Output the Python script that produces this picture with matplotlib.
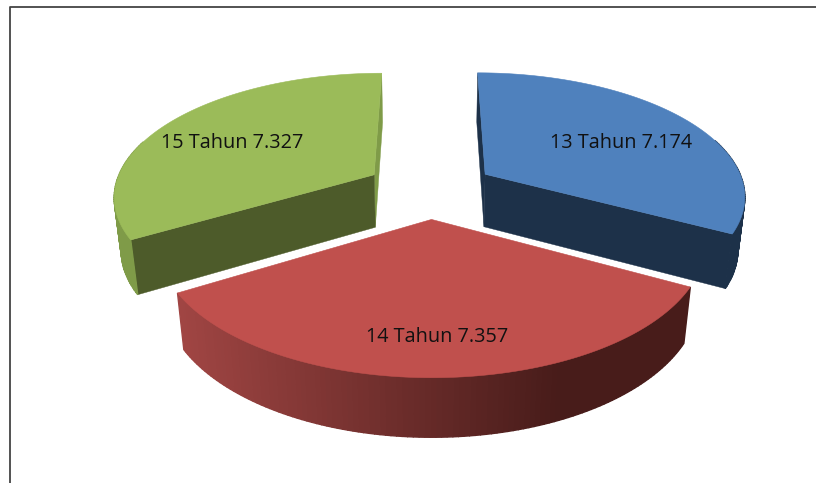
# -*- coding: utf-8 -*-
import numpy as np
import matplotlib
matplotlib.use('Agg')
import matplotlib.pyplot as plt
from matplotlib.colors import to_rgb
from matplotlib.patches import Polygon

# data
labels = ['13 Tahun', '14 Tahun', '15 Tahun']
values = [7174, 7357, 7327]
value_text = ['7.174', '7.357', '7.327']
top_colors = ['#4F81BD', '#C0504D', '#9BBB59']
wall_colors = ['#1D3149', '#4A1D1B', '#4D5B2A']
rim_left = ['#1D3149', '#A04543', '#7F9B48']
rim_right = ['#1D3149', '#481C1A', '#7F9B48']
label_pos = [(621, 143), (437, 337), (232, 143)]

# perspective settings, pixels
XC, YC = 430, 189
A, B = 260, 122
K = 0.16
EXPLODE = 0.24
EXPLODE_X = 1.05
DEPTH = 53


def project(u, v, low=False):
    s = 1 / (1 - K * v)
    x = XC + A * u * s
    y = YC + B * v * s
    if low:
        y = y + DEPTH * (1 + 0.5 * (s - 1))
        x = XC + (x - XC) * (1 - 0.022 * s)
    return x, y


fig = plt.figure(figsize=(8.16, 4.83), dpi=100)
ax = fig.add_axes([0, 0, 1, 1])
ax.set_xlim(0, 816)
ax.set_ylim(483, 0)
ax.axis('off')

ax.plot([10, 10, 816], [483, 6.5, 6.5], color='#444444', lw=1.3, zorder=1)

edges = np.cumsum([0] + values) / sum(values) * 2 * np.pi


def draw_slice(i, z):
    t = np.linspace(edges[i], edges[i + 1], 120)
    mid = (edges[i] + edges[i + 1]) / 2
    cu, cv = EXPLODE * EXPLODE_X * np.sin(mid), -EXPLODE * np.cos(mid)
    u = cu + np.sin(t)
    v = cv - np.cos(t)

    # the two straight walls, green shows its first one in front
    if i != 1:
        front, back = (0, -1) if i == 2 else (-1, 0)
        for k, col in [(back, rim_left[i]), (front, wall_colors[i])]:
            wall = [project(cu, cv), project(u[k], v[k]),
                    project(u[k], v[k], True), project(cu, cv, True)]
            ax.add_patch(Polygon(wall, closed=True, fc=col, ec=col, lw=0.3, zorder=z))

    # outer rim in small strips, shaded from left to right
    c0, c1 = np.array(to_rgb(rim_left[i])), np.array(to_rgb(rim_right[i]))
    xs = project(u, v)[0]
    for j in range(len(t) - 1):
        if v[j] + v[j + 1] < 2 * cv - 0.6:
            continue
        f = np.clip((xs[j] - 180) / 380, 0, 1)
        col = c0 + (c1 - c0) * f
        strip = [project(u[j], v[j]), project(u[j + 1], v[j + 1]),
                 project(u[j + 1], v[j + 1], True), project(u[j], v[j], True)]
        ax.add_patch(Polygon(strip, closed=True, fc=col, ec=col, lw=1.0, zorder=z))

    # top face
    top = [project(cu, cv)] + [project(a, b) for a, b in zip(u, v)]
    ax.add_patch(Polygon(top, closed=True, fc=top_colors[i], ec=top_colors[i], lw=0.4, zorder=z + 1))

    ax.text(label_pos[i][0], label_pos[i][1], labels[i] + ' ' + value_text[i],
            fontsize=14.3, family='Open Sans', color='#111111', ha='center', va='center', zorder=10)


draw_slice(2, 2)
draw_slice(0, 2)
draw_slice(1, 4)

fig.savefig('out.png', dpi=100)
